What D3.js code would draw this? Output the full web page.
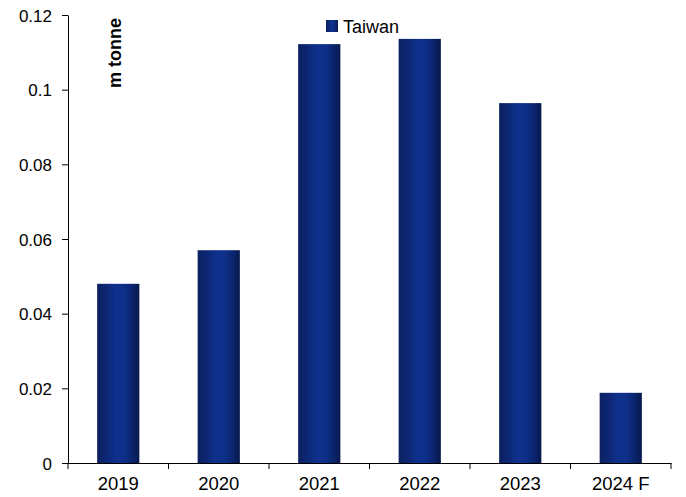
<!DOCTYPE html>
<html>
<head>
<meta charset="utf-8">
<script src="https://cdn.jsdelivr.net/npm/d3@7"></script>
<style>
  html, body { margin: 0; padding: 0; background: #fff; }
  svg { display: block; }
  text { font-family: "Liberation Sans", Arial, sans-serif; fill: #000; }
</style>
</head>
<body>
<svg id="chart" width="686" height="497"></svg>
<script>
const categories = ["2019", "2020", "2021", "2022", "2023", "2024 F"];
const taiwan = [0.048, 0.057, 0.1122, 0.1136, 0.0964, 0.0188];
const yTicks = [0, 0.02, 0.04, 0.06, 0.08, 0.1, 0.12];
const yTickLabels = ["0", "0.02", "0.04", "0.06", "0.08", "0.1", "0.12"];
const seriesName = "Taiwan";
const unitLabel = "m tonne";

const svg = d3.select("#chart");
const plotLeft = 68, plotRight = 671, plotTop = 15, plotBottom = 463;

const defs = svg.append("defs");
const grad = defs.append("linearGradient").attr("id", "barGrad")
  .attr("x1", "0%").attr("x2", "100%").attr("y1", "0%").attr("y2", "0%");
[["0%", "#0c2060"], ["25%", "#0d2877"], ["45%", "#0f318e"], ["65%", "#0e2f88"], ["85%", "#0a236a"], ["100%", "#07184b"]]
  .forEach(([o, c]) => grad.append("stop").attr("offset", o).attr("stop-color", c));

const x = d3.scaleBand().domain(categories).range([plotLeft, plotRight]).paddingInner(0.58).paddingOuter(0.29);
const xb = d3.scaleBand().domain(categories).range([plotLeft, plotRight]).padding(0);
const y = d3.scaleLinear().domain([0, 0.12]).range([plotBottom, plotTop]);

// bars
svg.append("g").selectAll("rect").data(categories).join("rect")
  .attr("x", d => x(d))
  .attr("width", x.bandwidth())
  .attr("y", (d, i) => y(taiwan[i]))
  .attr("height", (d, i) => y(0) - y(taiwan[i]))
  .attr("fill", "url(#barGrad)");

// y axis
const yAxis = d3.axisLeft(y).tickValues(yTicks)
  .tickFormat((d, i) => yTickLabels[i]).tickSize(6).tickSizeOuter(0).tickPadding(10);
const gy = svg.append("g").attr("transform", `translate(${plotLeft},0)`).call(yAxis);
gy.select(".domain").attr("stroke", "#000");
gy.selectAll(".tick line").attr("stroke", "#000");
gy.selectAll(".tick text").attr("font-size", "17px").attr("font-family", "'Liberation Sans', Arial, sans-serif")
  .attr("fill", "#000").attr("dy", "0.36em");

// x axis
const xAxis = d3.axisBottom(xb).tickSize(0).tickSizeOuter(0).tickPadding(14);
const gx = svg.append("g").attr("transform", `translate(0,${plotBottom})`).call(xAxis);
gx.select(".domain").attr("stroke", "#000");
gx.selectAll(".tick text").attr("font-size", "18.5px").attr("font-family", "'Liberation Sans', Arial, sans-serif")
  .attr("fill", "#000");
// boundary ticks
const bounds = categories.map(c => xb(c)).concat([xb(categories[categories.length - 1]) + xb.bandwidth()]);
gx.append("g").selectAll("line").data(bounds).join("line")
  .attr("x1", d => d).attr("x2", d => d).attr("y1", 0).attr("y2", 6)
  .attr("stroke", "#000");

// unit label
svg.append("text")
  .attr("transform", `translate(121,53) rotate(-90)`)
  .attr("text-anchor", "middle")
  .attr("font-weight", "bold")
  .attr("font-size", "18px")
  .text(unitLabel);

// legend
svg.append("rect").attr("x", 326).attr("y", 20).attr("width", 12).attr("height", 12).attr("fill", "url(#barGrad)");
svg.append("text").attr("x", 343).attr("y", 32.5).attr("font-size", "18px").text(seriesName);
</script>
</body>
</html>
